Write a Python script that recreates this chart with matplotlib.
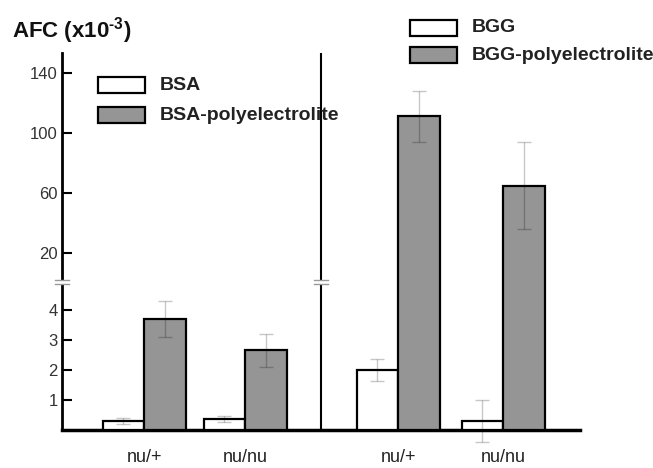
import matplotlib.pyplot as plt
from matplotlib.patches import Rectangle
from matplotlib.lines import Line2D

plt.rcParams['font.family'] = ['Liberation Sans', 'DejaVu Sans']
plt.rcParams['mathtext.fontset'] = 'custom'
plt.rcParams['mathtext.rm'] = 'Liberation Sans:bold'
plt.rcParams['mathtext.bf'] = 'Liberation Sans:bold'

# data (AFC x10^-3)
groups = ['nu/+', 'nu/nu', 'nu/+', 'nu/nu']
group_pos = [1.98, 4.41, 8.1, 10.63]
plain = [0.3, 0.35, 2.0, 0.3]          # BSA, BSA, BGG, BGG
plain_err = [0.1, 0.1, 0.37, 0.7]
poly = [3.7, 2.65, 111.3, 65.0]        # BSA-poly, BSA-poly, BGG-poly, BGG-poly
poly_err = [0.6, 0.55, 17, 29]
lo_ticks = [1, 2, 3, 4]
hi_ticks = [20, 60, 100, 140]
lo_lim = (0, 4.93)
hi_lim = (0.7, 153.3)
divider = 6.24
xmax = 12.48

W, H = 653, 468
def fx(x):
    return x / W
def fy(y):
    return 1 - y / H

fig = plt.figure(figsize=(W / 100, H / 100), dpi=100)
ax_lo = fig.add_axes([fx(62), fy(430), fx(580) - fx(62), (430 - 282) / H])
ax_hi = fig.add_axes([fx(62), fy(282), fx(580) - fx(62), (282 - 53) / H])

gray = '#959595'
err_kw = dict(fmt='none', ecolor='black', alpha=0.22, elinewidth=1, capsize=5, capthick=1, zorder=5)

# lower panel: all bars
ax_lo.bar([p - 1 for p in group_pos], plain, width=1, align='edge',
          color='white', edgecolor='black', linewidth=1.6, zorder=3)
ax_lo.bar(group_pos, poly, width=1, align='edge',
          color=gray, edgecolor='black', linewidth=1.6, zorder=3)

# upper panel: only bars reaching past the break (base pushed below the
# visible range so the bottom edge stays hidden)
base = -10
tall = [i for i in range(len(poly)) if poly[i] > lo_lim[1]]
ax_hi.bar([group_pos[i] for i in tall], [poly[i] - base for i in tall], bottom=base,
          width=1, align='edge', color=gray, edgecolor='black', linewidth=1.6, zorder=3)

for ax, lim in [(ax_lo, lo_lim), (ax_hi, hi_lim)]:
    ax.set_facecolor('none')
    ax.set_xlim(0, xmax)
    ax.set_ylim(*lim)
    ax.axvline(divider, color='black', lw=1.5, zorder=4)
    for s in ['top', 'right']:
        ax.spines[s].set_visible(False)
    ax.spines['left'].set_linewidth(2)
    ax.tick_params(axis='y', direction='in', length=7, width=1.5, pad=3,
                   labelsize=12, labelcolor='#333333')

# error bars
for i in range(len(groups)):
    if plain[i] + plain_err[i] < lo_lim[1]:
        ax_lo.errorbar(group_pos[i] - 0.5, plain[i], yerr=plain_err[i], clip_on=False, **err_kw)
    if poly[i] + poly_err[i] < lo_lim[1]:
        ax_lo.errorbar(group_pos[i] + 0.5, poly[i], yerr=poly_err[i], clip_on=False, **err_kw)
for i in tall:
    ax_hi.errorbar(group_pos[i] + 0.5, poly[i], yerr=poly_err[i], **err_kw)

ax_lo.set_yticks(lo_ticks)
ax_hi.set_yticks(hi_ticks)
ax_lo.spines['bottom'].set_linewidth(2.5)
ax_lo.set_xticks(group_pos)
ax_lo.set_xticklabels(groups, fontsize=13, color='#222222')
ax_lo.tick_params(axis='x', length=0, pad=14)
ax_hi.spines['bottom'].set_visible(False)
ax_hi.set_xticks([])

# axis break marks
for xc in [62, 321]:
    fig.add_artist(Rectangle((fx(xc - 4), fy(284)), fx(8), 4 / H,
                             facecolor='white', edgecolor='none', zorder=10))
    for yb in [280, 284]:
        fig.add_artist(Line2D([fx(xc - 7), fx(xc + 7)], [fy(yb), fy(yb)],
                              color='#999999', lw=1, zorder=11))

# legends
legend_items = [
    (98, 77, 'white', 'BSA'),
    (98, 107, gray, 'BSA-polyelectrolite'),
    (410, 20, 'white', 'BGG'),
    (410, 47, gray, 'BGG-polyelectrolite'),
]
for x0, y0, fc, label in legend_items:
    fig.add_artist(Rectangle((fx(x0), fy(y0 + 16)), fx(47), 16 / H,
                             facecolor=fc, edgecolor='black', lw=1.6))
    fig.text(fx(x0 + 62), fy(y0 + 8), label, fontsize=14, fontweight='bold',
             color='#222222', va='center', ha='left')

fig.text(fx(12), fy(38), r'AFC (x10$^{\text{-3}}$)', fontsize=16, fontweight='bold',
         color='#111111', va='baseline', ha='left')

fig.savefig('out.png', dpi=100)
